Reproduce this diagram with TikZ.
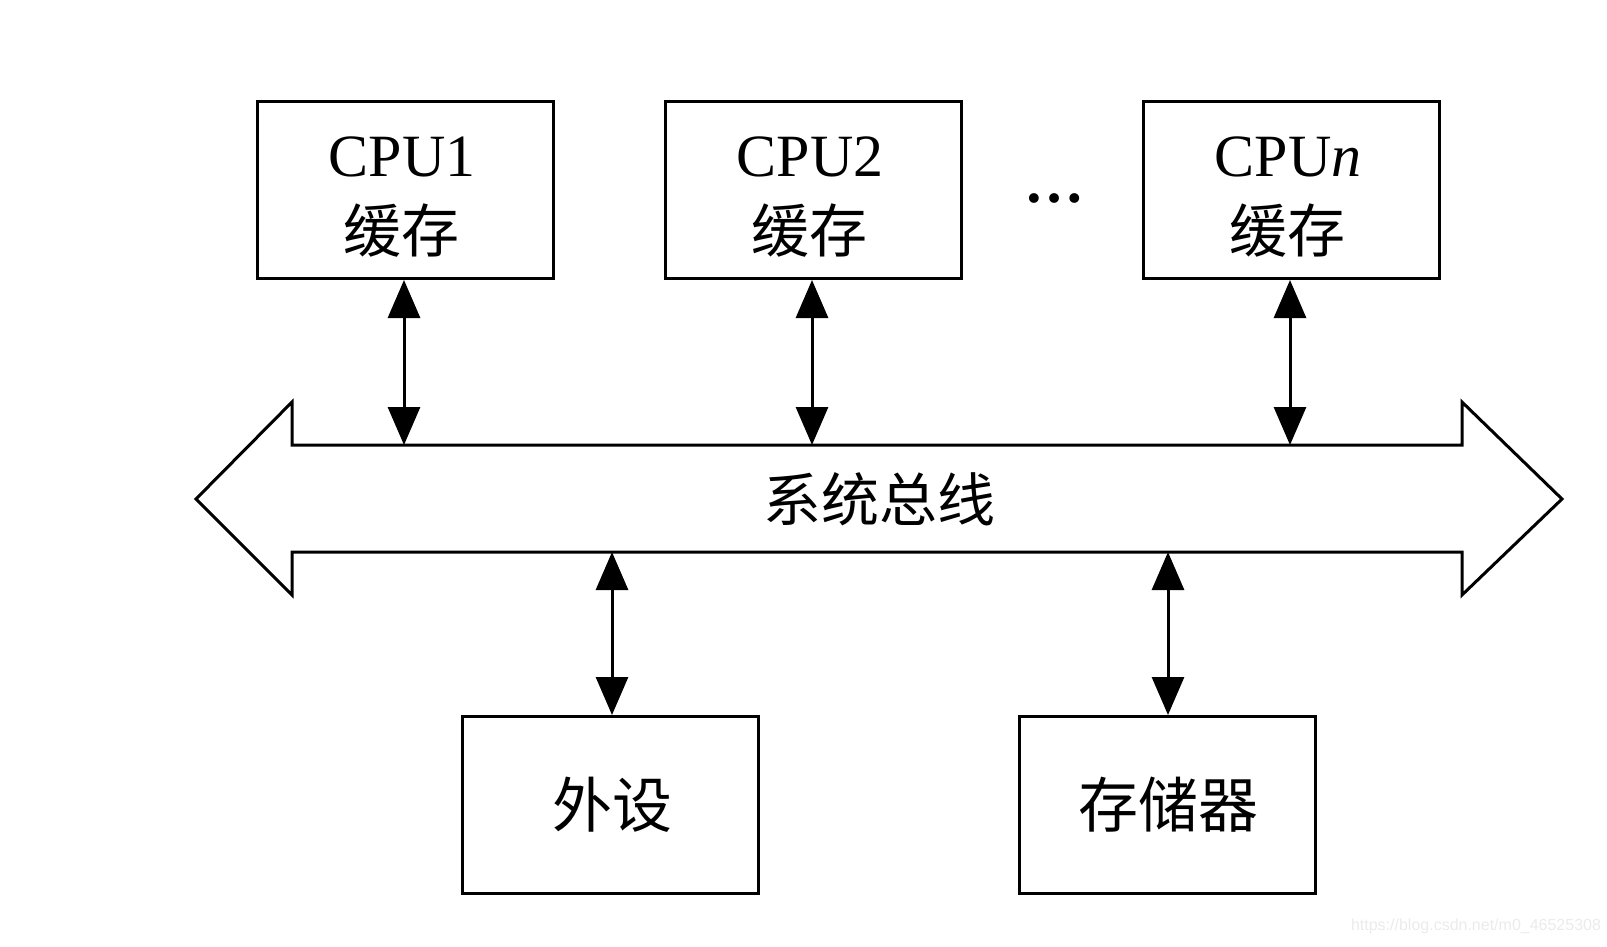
\documentclass[tikz,border=0pt]{standalone}
\usepackage{fontspec}
\setmainfont{Liberation Serif}
\newfontfamily\cjk{Noto Sans CJK SC}
\newfontfamily\wmfont{Liberation Sans}
\usetikzlibrary{arrows.meta}
\begin{document}
\begin{tikzpicture}[x=1pt,y=-1pt,
  box/.style={draw,line width=3pt,minimum width=296pt,minimum height=177pt,inner sep=0pt},
  lat/.style={font=\fontsize{60}{60}\selectfont,inner sep=0pt},
  zh/.style={font=\cjk\fontsize{58}{58}\selectfont,inner sep=0pt},
  link/.style={line width=3pt,{Triangle[width=32pt,length=38pt]}-{Triangle[width=32pt,length=38pt]}}]
\useasboundingbox (0,0) rectangle (1607,946);
% CPU boxes
\node[box] (c1) at (405,190) {};
\node[box] (c2) at (813,190) {};
\node[box] (cn) at (1291,190) {};
\node[lat] (t1) at (402,157) {CPU1};
\node[zh] (z1) at (401,231) {缓存};
\node[lat] (t2) at (810,157) {CPU2};
\node[zh] (z2) at (809,231) {缓存};
\node[lat] (tn) at (1288,157) {CPU\textit{n}};
\node[zh] (zn) at (1287,231) {缓存};
\node[font=\bfseries\fontsize{60}{60}\selectfont,inner sep=0pt] (dots) at (1054,198) {…};
% bus
\draw[line width=3pt,line join=miter] (196,499) -- (292,402) -- (292,445) -- (1462,445) -- (1462,402) -- (1562,499) -- (1462,595) -- (1462,552) -- (292,552) -- (292,595) -- cycle;
\node[zh] (bus) at (879,499) {系统总线};
\coordinate (b1) at (404,445);
\coordinate (b2) at (812,445);
\coordinate (bn) at (1290,445);
\coordinate (bp) at (612,552);
\coordinate (bm) at (1168,552);
% bottom boxes
\node[box] (p) at (610,805) {};
\node[box] (m) at (1167,805) {};
\node[zh,font=\cjk\fontsize{60}{60}\selectfont] (pt) at (612,805) {外设};
\node[zh,font=\cjk\fontsize{60}{60}\selectfont] (mt) at (1168,805) {存储器};
% links
\draw[link] (c1.south -| b1) -- (b1);
\draw[link] (c2.south -| b2) -- (b2);
\draw[link] (cn.south -| bn) -- (bn);
\draw[link] (bp) -- (p.north -| bp);
\draw[link] (bm) -- (m.north -| bm);
% watermark
\node[font=\wmfont\fontsize{16}{16}\selectfont,text=black!8,inner sep=0pt] (wm) at (1476,926) {https://blog.csdn.net/m0\_46525308};
\end{tikzpicture}
\end{document}
